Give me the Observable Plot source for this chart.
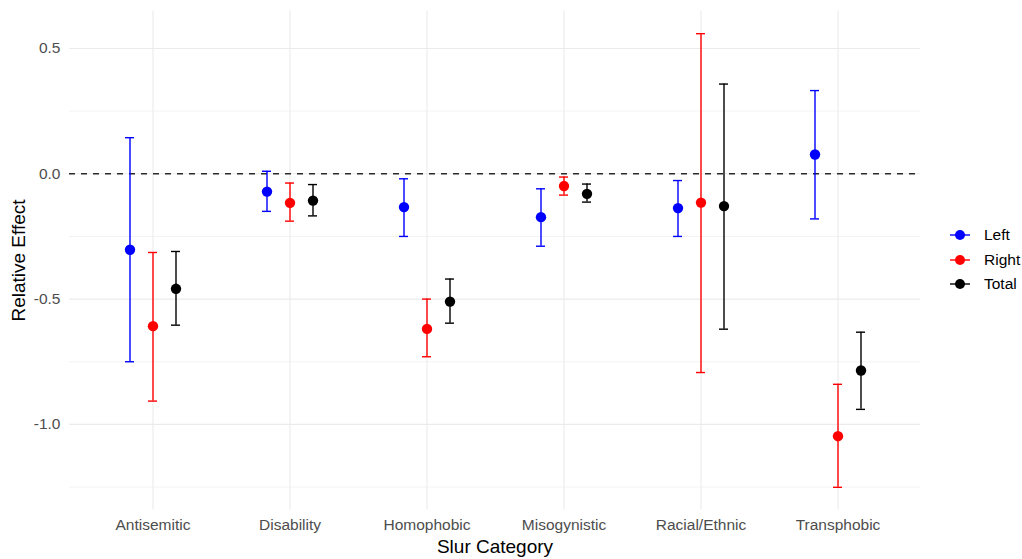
<!DOCTYPE html>
<html>
<head>
<meta charset="utf-8">
<script src="https://cdn.jsdelivr.net/npm/d3@7"></script>
<script src="https://cdn.jsdelivr.net/npm/@observablehq/plot@0.6"></script>
<style>
  html, body { margin: 0; padding: 0; background: #fff; }
  #wrap { position: relative; width: 1022px; height: 559px; font-family: "Liberation Sans", Arial, sans-serif; }
  #legend { position: absolute; left: 948px; top: 223px; font-size: 15.5px; color: #000; }
  .item { display: flex; align-items: center; height: 24.5px; }
  .item svg { margin-right: 12px; }
</style>
</head>
<body>
<div id="wrap">
  <div id="chart"></div>
  <div id="legend"></div>
</div>
<script>
// ---- data ----
const categories = ["Antisemitic", "Disability", "Homophobic", "Misogynistic", "Racial/Ethnic", "Transphobic"];
const seriesNames = ["Left", "Right", "Total"];
const seriesColors = ["#0000ff", "#ff0000", "#000000"];

const leftEstimate  = [-0.303, -0.071, -0.133, -0.173, -0.137,  0.077];
const leftLower     = [-0.750, -0.150, -0.250, -0.289, -0.250, -0.180];
const leftUpper     = [ 0.144,  0.010, -0.020, -0.060, -0.027,  0.332];

const rightEstimate = [-0.608, -0.116, -0.619, -0.049, -0.115, -1.047];
const rightLower    = [-0.907, -0.189, -0.730, -0.085, -0.793, -1.251];
const rightUpper    = [-0.314, -0.037, -0.500, -0.013,  0.559, -0.840];

const totalEstimate = [-0.459, -0.107, -0.510, -0.080, -0.129, -0.785];
const totalLower    = [-0.604, -0.168, -0.596, -0.113, -0.620, -0.940];
const totalUpper    = [-0.310, -0.043, -0.420, -0.041,  0.358, -0.632];

const yTicks = [-1.0, -0.5, 0.0, 0.5];
const yMinorTicks = [-1.25, -0.75, -0.25, 0.25];

// ---- build table ----
const seriesData = {
  Left:  {est: leftEstimate,  lo: leftLower,  hi: leftUpper},
  Right: {est: rightEstimate, lo: rightLower, hi: rightUpper},
  Total: {est: totalEstimate, lo: totalLower, hi: totalUpper}
};
const rows = [];
seriesNames.forEach(s => {
  categories.forEach((c, i) => {
    rows.push({series: s, category: c, estimate: seriesData[s].est[i], lower: seriesData[s].lo[i], upper: seriesData[s].hi[i]});
  });
});

const allVals = rows.flatMap(d => [d.lower, d.upper, d.estimate]);
const yMin = d3.min(allVals), yMax = d3.max(allVals);
const pad = (yMax - yMin) * 0.05;

const dodge = 23;
const marks = [
  Plot.ruleY(yMinorTicks, {stroke: "#ebebeb", strokeWidth: 0.6}),
  Plot.ruleY(yTicks, {stroke: "#ebebeb", strokeWidth: 1.1}),
  Plot.ruleX(categories, {stroke: "#ebebeb", strokeWidth: 1.1}),
  Plot.ruleY([0], {stroke: "#2b2b2b", strokeWidth: 1.4, strokeDasharray: "6,6"})
];
seriesNames.forEach((s, k) => {
  const data = rows.filter(d => d.series === s);
  const color = seriesColors[k];
  const dx = (k - 1) * dodge;
  marks.push(
    Plot.ruleX(data, {x: "category", y1: "lower", y2: "upper", stroke: color, strokeWidth: 1.4, dx}),
    Plot.tickY(data, {x: "category", y: "upper", stroke: color, strokeWidth: 1.4, dx, insetLeft: 64, insetRight: 64}),
    Plot.tickY(data, {x: "category", y: "lower", stroke: color, strokeWidth: 1.4, dx, insetLeft: 64, insetRight: 64}),
    Plot.dot(data, {x: "category", y: "estimate", fill: color, r: 5.2, dx})
  );
});
marks.push(
  Plot.text(["Relative Effect"], {text: d => d, frameAnchor: "left", textAnchor: "middle", rotate: -90, dx: -51, fontSize: 19, fill: "#000"}),
  Plot.text(["Slur Category"], {text: d => d, frameAnchor: "bottom", textAnchor: "middle", dy: 43, fontSize: 19, fill: "#000"})
);

const chart = Plot.plot({
  width: 1022,
  height: 559,
  marginLeft: 69,
  marginRight: 102,
  marginTop: 10.5,
  marginBottom: 49.5,
  style: {fontFamily: "'Liberation Sans', Arial, sans-serif", fontSize: "15.5px", color: "#4d4d4d", background: "#fff", overflow: "visible"},
  x: {type: "band", domain: categories, paddingInner: 0, paddingOuter: 0.1, label: null, tickSize: 0, tickPadding: 9},
  y: {domain: [yMin - pad, yMax + pad], ticks: yTicks, tickFormat: d => d.toFixed(1), tickSize: 0, tickPadding: 9, label: null},
  marks
});
document.getElementById("chart").appendChild(chart);

// ---- legend ----
const legend = document.getElementById("legend");
seriesNames.forEach((s, k) => {
  const item = document.createElement("div");
  item.className = "item";
  item.innerHTML = `<svg width="24" height="14"><line x1="2" x2="22" y1="7" y2="7" stroke="${seriesColors[k]}" stroke-width="1.4"/><circle cx="12" cy="7" r="5" fill="${seriesColors[k]}"/></svg><span>${s}</span>`;
  legend.appendChild(item);
});
</script>
</body>
</html>
